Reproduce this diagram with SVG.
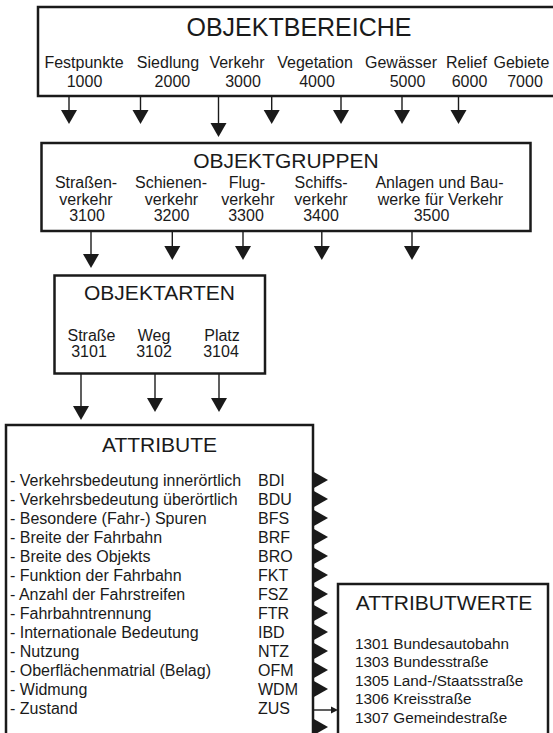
<svg xmlns="http://www.w3.org/2000/svg" xmlns:xlink="http://www.w3.org/1999/xlink" width="553" height="733" viewBox="0 0 553 733">
<style>
  .box { fill: #ffffff; stroke: #1a1a1a; stroke-width: 2.5; }
  text { font-family: "Liberation Sans", Arial, Helvetica, sans-serif; fill: #1a1a1a; }
  .t25 { font-size: 25px; text-anchor: middle; }
  .t21 { font-size: 21px; text-anchor: middle; }
  .l16 { font-size: 16px; text-anchor: middle; }
  .a16 { font-size: 16px; }
  .v15 { font-size: 15.3px; }
  .ln { stroke: #1a1a1a; stroke-width: 1.4; fill: none; }
  .hd { fill: #1a1a1a; }
</style>
<defs>
  <path id="ah" class="hd" d="M-8,0 L8,0 L0,14 Z"/>
  <path id="tri" class="hd" d="M0,-8.5 L15,0 L0,8.5 Z"/>
</defs>
<rect x="0" y="0" width="553" height="733" fill="#ffffff"/>

<g id="objektbereiche">
  <rect class="box" x="38" y="7" width="530" height="89"/>
  <text class="t25" x="299" y="35.5">OBJEKTBEREICHE</text>
  <text class="l16" x="84" y="67.7">Festpunkte</text>
  <text class="l16" x="84.5" y="87">1000</text>
  <text class="l16" x="168" y="67.7">Siedlung</text>
  <text class="l16" x="172.4" y="87">2000</text>
  <text class="l16" x="237" y="67.7">Verkehr</text>
  <text class="l16" x="243" y="87">3000</text>
  <text class="l16" x="315" y="67.7">Vegetation</text>
  <text class="l16" x="317" y="87">4000</text>
  <text class="l16" x="401" y="67.7">Gewässer</text>
  <text class="l16" x="407.5" y="87">5000</text>
  <text class="l16" x="466.5" y="67.7">Relief</text>
  <text class="l16" x="469.5" y="87">6000</text>
  <text class="l16" x="521.5" y="67.7">Gebiete</text>
  <text class="l16" x="525" y="87">7000</text>
</g>

<g id="objektgruppen">
  <rect class="box" x="41.5" y="143" width="489" height="88"/>
  <text class="t21" x="286" y="167.6">OBJEKTGRUPPEN</text>
  <text class="l16" x="86" y="188">Straßen-</text>
  <text class="l16" x="86" y="204.5">verkehr</text>
  <text class="l16" x="87" y="221">3100</text>
  <text class="l16" x="171" y="188">Schienen-</text>
  <text class="l16" x="171.5" y="204.5">verkehr</text>
  <text class="l16" x="171.5" y="221">3200</text>
  <text class="l16" x="247" y="188">Flug-</text>
  <text class="l16" x="248" y="204.5">verkehr</text>
  <text class="l16" x="246" y="221">3300</text>
  <text class="l16" x="321" y="188">Schiffs-</text>
  <text class="l16" x="321" y="204.5">verkehr</text>
  <text class="l16" x="321" y="221">3400</text>
  <text class="l16" x="439.5" y="188">Anlagen und Bau-</text>
  <text class="l16" x="440.5" y="204.5">werke für Verkehr</text>
  <text class="l16" x="431.5" y="221">3500</text>
</g>

<g id="objektarten">
  <rect class="box" x="54.5" y="275.5" width="210.5" height="98"/>
  <text class="t21" x="159.5" y="300">OBJEKTARTEN</text>
  <text class="l16" x="91.5" y="340.7">Straße</text>
  <text class="l16" x="89" y="357.3">3101</text>
  <text class="l16" x="154" y="340.7">Weg</text>
  <text class="l16" x="154" y="357.3">3102</text>
  <text class="l16" x="222" y="340.7">Platz</text>
  <text class="l16" x="221" y="357.3">3104</text>
</g>

<g id="attribute">
  <rect class="box" x="6" y="425" width="307" height="330"/>
  <text class="t21" x="159.5" y="451.7">ATTRIBUTE</text>
  <text class="a16" x="10" y="486">- Verkehrsbedeutung innerörtlich</text>
  <text class="a16" x="10" y="505">- Verkehrsbedeutung überörtlich</text>
  <text class="a16" x="10" y="524">- Besondere (Fahr-) Spuren</text>
  <text class="a16" x="10" y="543">- Breite der Fahrbahn</text>
  <text class="a16" x="10" y="562">- Breite des Objekts</text>
  <text class="a16" x="10" y="581">- Funktion der Fahrbahn</text>
  <text class="a16" x="10" y="600">- Anzahl der Fahrstreifen</text>
  <text class="a16" x="10" y="619">- Fahrbahntrennung</text>
  <text class="a16" x="10" y="638">- Internationale Bedeutung</text>
  <text class="a16" x="10" y="657">- Nutzung</text>
  <text class="a16" x="10" y="676">- Oberflächenmatrial (Belag)</text>
  <text class="a16" x="10" y="695">- Widmung</text>
  <text class="a16" x="10" y="714">- Zustand</text>
  <text class="a16" x="258" y="486">BDI</text>
  <text class="a16" x="258" y="505">BDU</text>
  <text class="a16" x="258" y="524">BFS</text>
  <text class="a16" x="258" y="543">BRF</text>
  <text class="a16" x="258" y="562">BRO</text>
  <text class="a16" x="258" y="581">FKT</text>
  <text class="a16" x="258" y="600">FSZ</text>
  <text class="a16" x="258" y="619">FTR</text>
  <text class="a16" x="258" y="638">IBD</text>
  <text class="a16" x="258" y="657">NTZ</text>
  <text class="a16" x="258" y="676">OFM</text>
  <text class="a16" x="258" y="695">WDM</text>
  <text class="a16" x="258" y="714">ZUS</text>
  <g id="ports">
    <use xlink:href="#tri" x="313" y="480"/>
    <use xlink:href="#tri" x="313" y="499"/>
    <use xlink:href="#tri" x="313" y="518"/>
    <use xlink:href="#tri" x="313" y="537"/>
    <use xlink:href="#tri" x="313" y="556"/>
    <use xlink:href="#tri" x="313" y="575"/>
    <use xlink:href="#tri" x="313" y="594"/>
    <use xlink:href="#tri" x="313" y="613"/>
    <use xlink:href="#tri" x="313" y="632"/>
    <use xlink:href="#tri" x="313" y="651"/>
    <use xlink:href="#tri" x="313" y="670"/>
    <use xlink:href="#tri" x="313" y="689"/>
    <use xlink:href="#tri" x="313" y="727"/>
  </g>
</g>

<g id="attributwerte">
  <rect class="box" x="338" y="584" width="210" height="170"/>
  <text class="t21" x="444" y="610">ATTRIBUTWERTE</text>
  <text class="v15" x="355" y="648.5">1301 Bundesautobahn</text>
  <text class="v15" x="355" y="667">1303 Bundesstraße</text>
  <text class="v15" x="355" y="685.5">1305 Land-/Staatsstraße</text>
  <text class="v15" x="355" y="704">1306 Kreisstraße</text>
  <text class="v15" x="355" y="722.5">1307 Gemeindestraße</text>
</g>

<g id="connectors">
  <line class="ln" x1="69" y1="96" x2="69" y2="111"/><use xlink:href="#ah" x="69" y="110"/>
  <line class="ln" x1="140.5" y1="96" x2="140.5" y2="111"/><use xlink:href="#ah" x="140.5" y="110"/>
  <line class="ln" x1="218.5" y1="96" x2="218.5" y2="124"/><use xlink:href="#ah" x="218.5" y="123"/>
  <line class="ln" x1="271.7" y1="96" x2="271.7" y2="111"/><use xlink:href="#ah" x="271.7" y="110"/>
  <line class="ln" x1="341" y1="96" x2="341" y2="111"/><use xlink:href="#ah" x="341" y="110"/>
  <line class="ln" x1="402" y1="96" x2="402" y2="111"/><use xlink:href="#ah" x="402" y="110"/>
  <line class="ln" x1="458.5" y1="96" x2="458.5" y2="111"/><use xlink:href="#ah" x="458.5" y="110"/>

  <line class="ln" x1="91" y1="231" x2="91" y2="255"/><use xlink:href="#ah" x="91" y="254"/>
  <line class="ln" x1="172.3" y1="231" x2="172.3" y2="247"/><use xlink:href="#ah" x="172.3" y="246"/>
  <line class="ln" x1="243" y1="231" x2="243" y2="247"/><use xlink:href="#ah" x="243" y="246"/>
  <line class="ln" x1="321.8" y1="231" x2="321.8" y2="247"/><use xlink:href="#ah" x="321.8" y="246"/>
  <line class="ln" x1="412" y1="231" x2="412" y2="247"/><use xlink:href="#ah" x="412" y="246"/>

  <line class="ln" x1="81" y1="373.5" x2="81" y2="407"/><use xlink:href="#ah" x="81" y="406"/>
  <line class="ln" x1="155" y1="373.5" x2="155" y2="399"/><use xlink:href="#ah" x="155" y="398"/>
  <line class="ln" x1="219" y1="373.5" x2="219" y2="399"/><use xlink:href="#ah" x="219" y="398"/>

  <line class="ln" x1="313" y1="710" x2="333" y2="710"/>
  <path class="hd" d="M331,706.5 L338,710 L331,713.5 Z"/>
</g>
</svg>
